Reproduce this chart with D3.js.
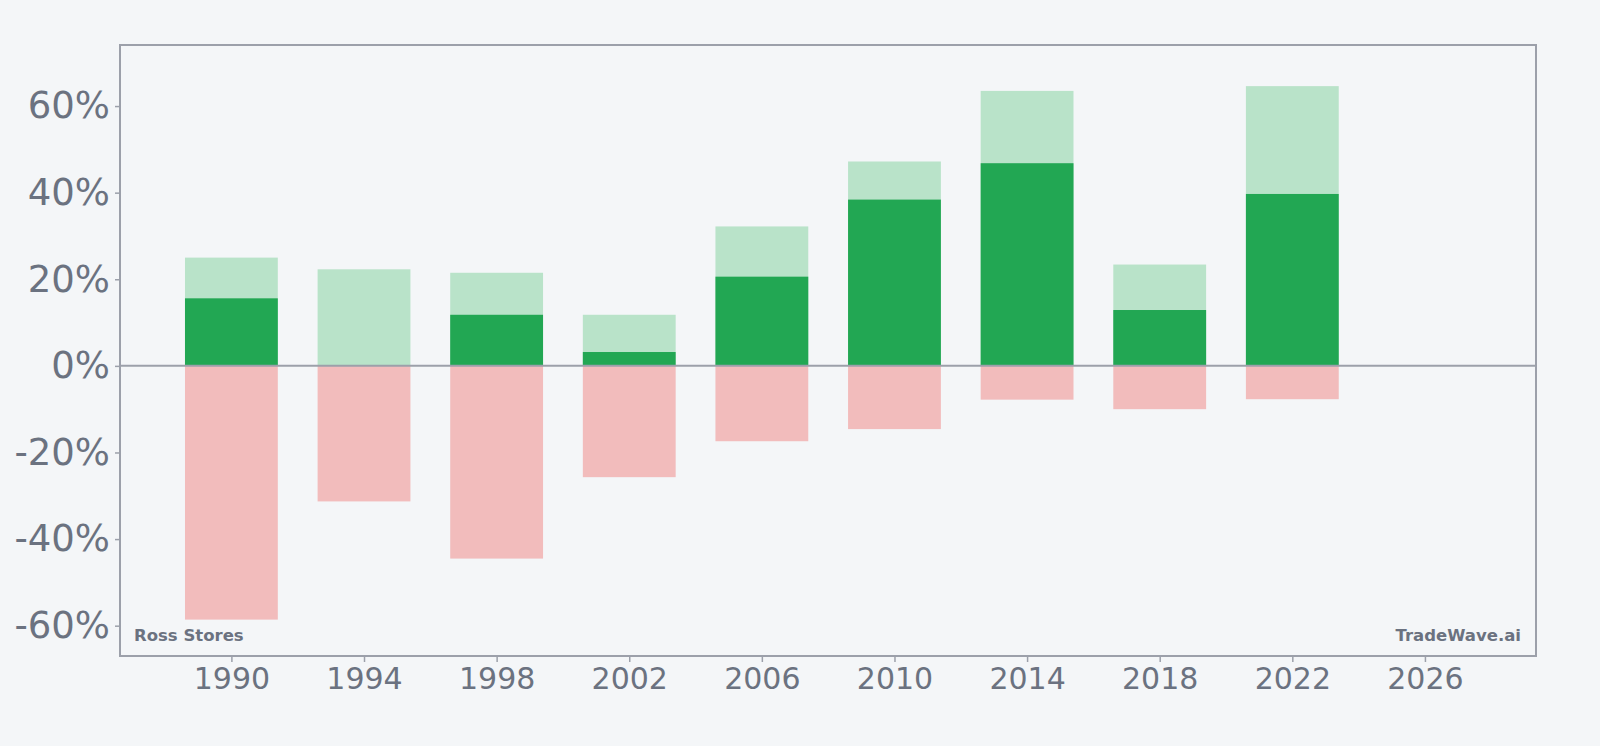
<!DOCTYPE html>
<html>
<head>
<meta charset="utf-8">
<script src="https://cdn.jsdelivr.net/npm/d3@7"></script>
<style>
  html, body { margin: 0; padding: 0; background: #f4f6f8; }
  svg { display: block; font-family: "DejaVu Sans", sans-serif; }
</style>
</head>
<body>
<svg id="chart" width="1600" height="746"></svg>
<script>
// yearly ranges (percent)
var years = [1990, 1994, 1998, 2002, 2006, 2010, 2014, 2018, 2022];
var highs = [25.0, 22.3, 21.5, 11.8, 32.2, 47.2, 63.5, 23.4, 64.6];
var returns = [15.6, 0, 11.8, 3.2, 20.6, 38.4, 46.8, 12.9, 39.7];
var lows = [-58.6, -31.3, -44.5, -25.7, -17.4, -14.6, -7.8, -10.0, -7.7];
var xTicks = [1990, 1994, 1998, 2002, 2006, 2010, 2014, 2018, 2022, 2026];
var yTicks = [-60, -40, -20, 0, 20, 40, 60];

var svg = d3.select("#chart"),
  margin = { top: 45, right: 64, bottom: 90, left: 120 },
  width = +svg.attr("width") - margin.left - margin.right,
  height = +svg.attr("height") - margin.top - margin.bottom,
  g = svg
    .append("g")
    .attr("transform", "translate(" + margin.left + "," + margin.top + ")");

var textColor = "#6b7280",
  lineColor = "#9ca0aa";

var x = d3.scaleLinear().domain([1986.64, 2029.35]).range([0, width]);
var y = d3.scaleLinear().domain([-67, 74.1]).range([height, 0]);
var barW = x(1992.8) - x(1990);

function bars(cls, vals, top, color) {
  g.selectAll("." + cls)
    .data(years)
    .enter()
    .append("rect")
    .attr("class", cls)
    .attr("x", function(d) { return x(d) - barW / 2; })
    .attr("width", barW)
    .attr("y", function(d, i) { return top ? y(Math.max(vals[i], 0)) : y(0); })
    .attr("height", function(d, i) { return Math.abs(y(vals[i]) - y(0)); })
    .attr("fill", color);
}

bars("low", lows, false, "#f2bcbc");
bars("high", highs, true, "#b9e3c9");
bars("ret", returns, true, "#22a753");

// zero line
g.append("line")
  .attr("x1", 0)
  .attr("x2", width)
  .attr("y1", y(0))
  .attr("y2", y(0))
  .attr("stroke", lineColor)
  .attr("stroke-width", 2);

// frame
g.append("rect")
  .attr("width", width)
  .attr("height", height)
  .attr("fill", "none")
  .attr("stroke", lineColor)
  .attr("stroke-width", 2);

var xAxis = g.append("g")
  .attr("transform", "translate(0," + height + ")")
  .call(d3.axisBottom(x).tickValues(xTicks).tickFormat(d3.format("d")).tickSize(6).tickPadding(6));

var yAxis = g.append("g")
  .call(d3.axisLeft(y).tickValues(yTicks).tickFormat(function(d) { return d + "%"; }).tickSize(5).tickPadding(5));

[xAxis, yAxis].forEach(function(a) {
  a.select(".domain").remove();
  a.selectAll("line").attr("stroke", lineColor).attr("stroke-width", 1.5);
  a.selectAll("text").attr("fill", textColor).attr("font-family", "DejaVu Sans");
});
xAxis.selectAll("text").attr("font-size", 30);
yAxis.selectAll("text").attr("font-size", 37);

g.append("text")
  .text("Ross Stores")
  .attr("x", 14)
  .attr("y", height - 15)
  .attr("fill", textColor)
  .attr("font-size", 16.5)
  .attr("font-weight", "bold");

g.append("text")
  .text("TradeWave.ai")
  .attr("x", width - 15)
  .attr("y", height - 15)
  .attr("text-anchor", "end")
  .attr("fill", textColor)
  .attr("font-size", 16.5)
  .attr("font-weight", "bold");
</script>
</body>
</html>
